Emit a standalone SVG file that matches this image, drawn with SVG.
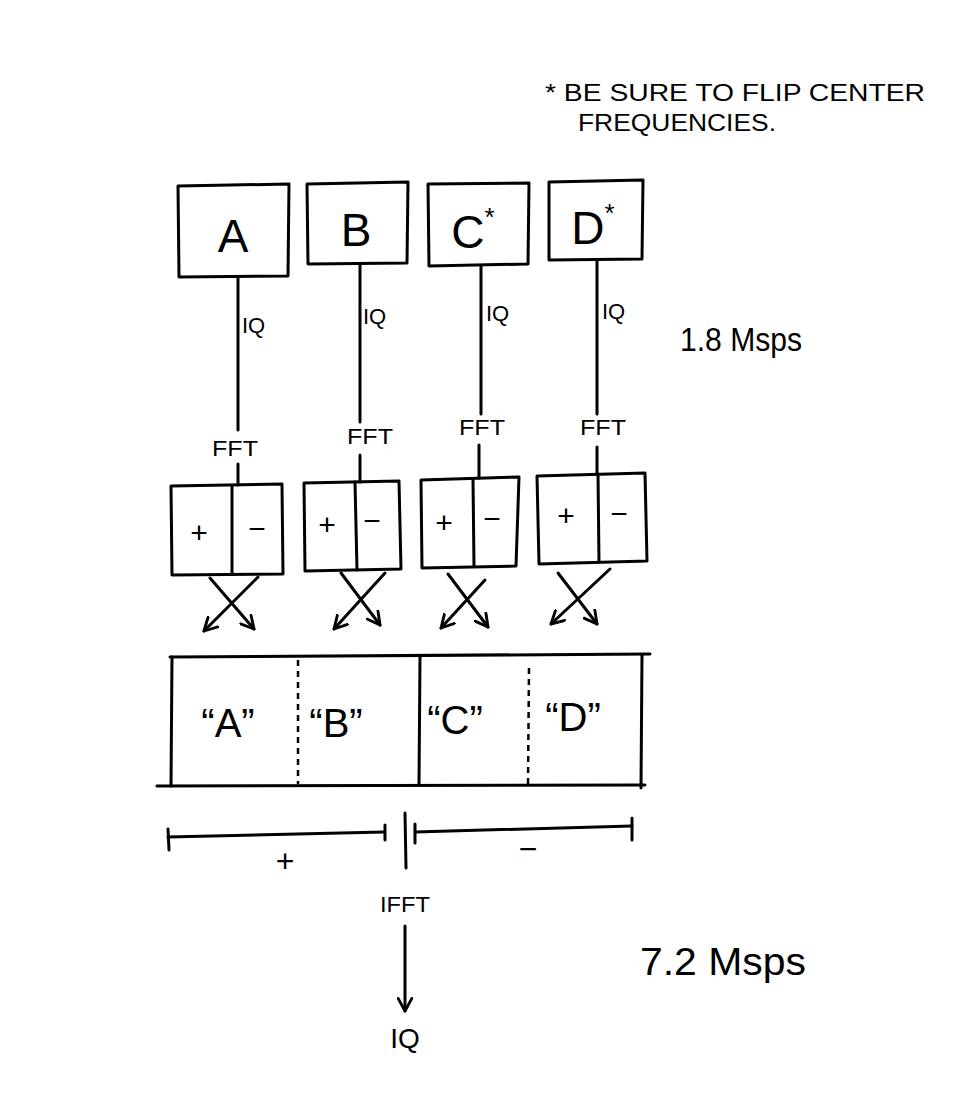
<svg xmlns="http://www.w3.org/2000/svg" width="970" height="1112" viewBox="0 0 970 1112">
<defs>
<style>
.ln{stroke:#000;stroke-width:3;fill:none;stroke-linecap:round;stroke-linejoin:round}
.dash{stroke:#000;stroke-width:2.5;fill:none;stroke-dasharray:6 5}
.t{font-family:"Liberation Sans","DejaVu Sans",sans-serif;fill:#000}
.sm{font-size:22px}
.pm{font-size:30px}
.big{font-size:46px}
.mid{font-size:40px}
</style>
<marker id="ah" viewBox="0 0 14 14" refX="12" refY="7" markerWidth="16" markerHeight="16" markerUnits="userSpaceOnUse" orient="auto">
<path d="M1,1 L12,7 L1,13" fill="none" stroke="#000" stroke-width="2.5" stroke-linecap="round" stroke-linejoin="round"/>
</marker>
</defs>
<rect width="970" height="1112" fill="#fff"/>

<g id="note">
<text class="t" x="545" y="101" font-size="24" textLength="380" lengthAdjust="spacingAndGlyphs">* BE SURE TO FLIP CENTER</text>
<text class="t" x="578" y="131" font-size="24" textLength="198" lengthAdjust="spacingAndGlyphs">FREQUENCIES.</text>
</g>

<g id="node-A">
<polygon class="ln" points="178,186 289,184 288,276 179,277"/>
<text class="t big" x="233" y="252" text-anchor="middle">A</text>
</g>
<g id="node-B">
<polygon class="ln" points="307,184 408,182 407,263 308,264"/>
<text class="t big" x="356" y="246" text-anchor="middle">B</text>
</g>
<g id="node-C">
<polygon class="ln" points="428,184 529,183 528,264 429,266"/>
<text class="t big" x="473" y="248" text-anchor="middle">C<tspan font-size="26" dy="-22">*</tspan></text>
</g>
<g id="node-D">
<polygon class="ln" points="549,182 643,180 642,259 549,260"/>
<text class="t big" x="593" y="244" text-anchor="middle">D<tspan font-size="26" dy="-22">*</tspan></text>
</g>

<g id="rate-top">
<text class="t" x="680" y="351" font-size="34" textLength="122" lengthAdjust="spacingAndGlyphs">1.8 Msps</text>
</g>
<g id="rate-bottom">
<text class="t" x="640" y="975" font-size="38" textLength="166" lengthAdjust="spacingAndGlyphs">7.2 Msps</text>
</g>

<g id="fft-A">
<polygon class="ln" points="171,486 282,484 283,574 172,575"/>
<line class="ln" x1="232" y1="486" x2="232" y2="574"/>
<text class="t pm" x="199" y="543" text-anchor="middle">+</text>
<text class="t pm" x="257" y="539" text-anchor="middle">−</text>
</g>
<g id="fft-B">
<polygon class="ln" points="304,483 399,481 401,569 305,571"/>
<line class="ln" x1="355" y1="482" x2="357" y2="570"/>
<text class="t pm" x="327" y="535" text-anchor="middle">+</text>
<text class="t pm" x="372" y="531" text-anchor="middle">−</text>
</g>
<g id="fft-C">
<polygon class="ln" points="421,480 519,477 516,566 422,568"/>
<line class="ln" x1="473" y1="479" x2="474" y2="566"/>
<text class="t pm" x="444" y="533" text-anchor="middle">+</text>
<text class="t pm" x="492" y="529" text-anchor="middle">−</text>
</g>
<g id="fft-D">
<polygon class="ln" points="537,476 645,473 647,561 539,564"/>
<line class="ln" x1="598" y1="474" x2="599" y2="562"/>
<text class="t pm" x="566" y="526" text-anchor="middle">+</text>
<text class="t pm" x="619" y="524" text-anchor="middle">−</text>
</g>

<g id="combined">
<line class="ln" x1="170" y1="657" x2="650" y2="654"/>
<line class="ln" x1="172" y1="657" x2="171" y2="786"/>
<line class="ln" x1="642" y1="655" x2="641" y2="788"/>
<line class="ln" x1="157" y1="786" x2="645" y2="785"/>
<line class="dash" x1="298" y1="660" x2="298" y2="784"/>
<line class="ln" x1="420" y1="656" x2="419" y2="785"/>
<line class="dash" x1="529" y1="668" x2="528" y2="784"/>
<text class="t mid" x="228" y="737" text-anchor="middle">“A”</text>
<text class="t mid" x="336" y="737" text-anchor="middle">“B”</text>
<text class="t mid" x="455" y="734" text-anchor="middle">“C”</text>
<text class="t mid" x="573" y="731" text-anchor="middle">“D”</text>
</g>

<g id="ranges">
<line class="ln" x1="168" y1="837" x2="384" y2="832"/>
<line class="ln" x1="168" y1="829" x2="169" y2="850"/>
<line class="ln" x1="385" y1="825" x2="385" y2="840"/>
<text class="t" x="285" y="872" font-size="32" text-anchor="middle">+</text>
<line class="ln" x1="415" y1="832" x2="632" y2="826"/>
<line class="ln" x1="415" y1="824" x2="415" y2="843"/>
<line class="ln" x1="632" y1="818" x2="632" y2="840"/>
<text class="t" x="528" y="860" font-size="32" text-anchor="middle">−</text>
<line class="ln" x1="405" y1="813" x2="406" y2="868"/>
</g>

<g id="connectors">
<line class="ln" x1="238" y1="277" x2="238" y2="430"/>
<line class="ln" x1="360" y1="264" x2="360" y2="422"/>
<line class="ln" x1="481" y1="266" x2="481" y2="414"/>
<line class="ln" x1="597" y1="260" x2="597" y2="414"/>
<line class="ln" x1="238" y1="464" x2="238" y2="485"/>
<line class="ln" x1="360" y1="455" x2="360" y2="482"/>
<line class="ln" x1="479" y1="445" x2="479" y2="478"/>
<line class="ln" x1="597" y1="447" x2="597" y2="474"/>
<line class="ln" x1="210" y1="578" x2="254" y2="629" marker-end="url(#ah)"/>
<line class="ln" x1="258" y1="577" x2="204" y2="631" marker-end="url(#ah)"/>
<line class="ln" x1="341" y1="573" x2="380" y2="625" marker-end="url(#ah)"/>
<line class="ln" x1="385" y1="573" x2="334" y2="629" marker-end="url(#ah)"/>
<line class="ln" x1="448" y1="574" x2="488" y2="627" marker-end="url(#ah)"/>
<line class="ln" x1="485" y1="580" x2="441" y2="628" marker-end="url(#ah)"/>
<line class="ln" x1="558" y1="573" x2="597" y2="624" marker-end="url(#ah)"/>
<line class="ln" x1="610" y1="569" x2="551" y2="624" marker-end="url(#ah)"/>
<line class="ln" x1="405" y1="926" x2="405" y2="1011" marker-end="url(#ah)"/>
<text class="t sm" x="242" y="333">IQ</text>
<text class="t sm" x="363" y="324">IQ</text>
<text class="t sm" x="486" y="321">IQ</text>
<text class="t sm" x="602" y="319">IQ</text>
<text class="t" x="235" y="456" font-size="22" text-anchor="middle" textLength="46" lengthAdjust="spacingAndGlyphs">FFT</text>
<text class="t" x="370" y="444" font-size="22" text-anchor="middle" textLength="46" lengthAdjust="spacingAndGlyphs">FFT</text>
<text class="t" x="482" y="435" font-size="22" text-anchor="middle" textLength="46" lengthAdjust="spacingAndGlyphs">FFT</text>
<text class="t" x="603" y="435" font-size="22" text-anchor="middle" textLength="46" lengthAdjust="spacingAndGlyphs">FFT</text>
<text class="t" x="405" y="912" font-size="22" text-anchor="middle" textLength="50" lengthAdjust="spacingAndGlyphs">IFFT</text>
<text class="t" x="405" y="1048" font-size="28" text-anchor="middle">IQ</text>
</g>
</svg>
